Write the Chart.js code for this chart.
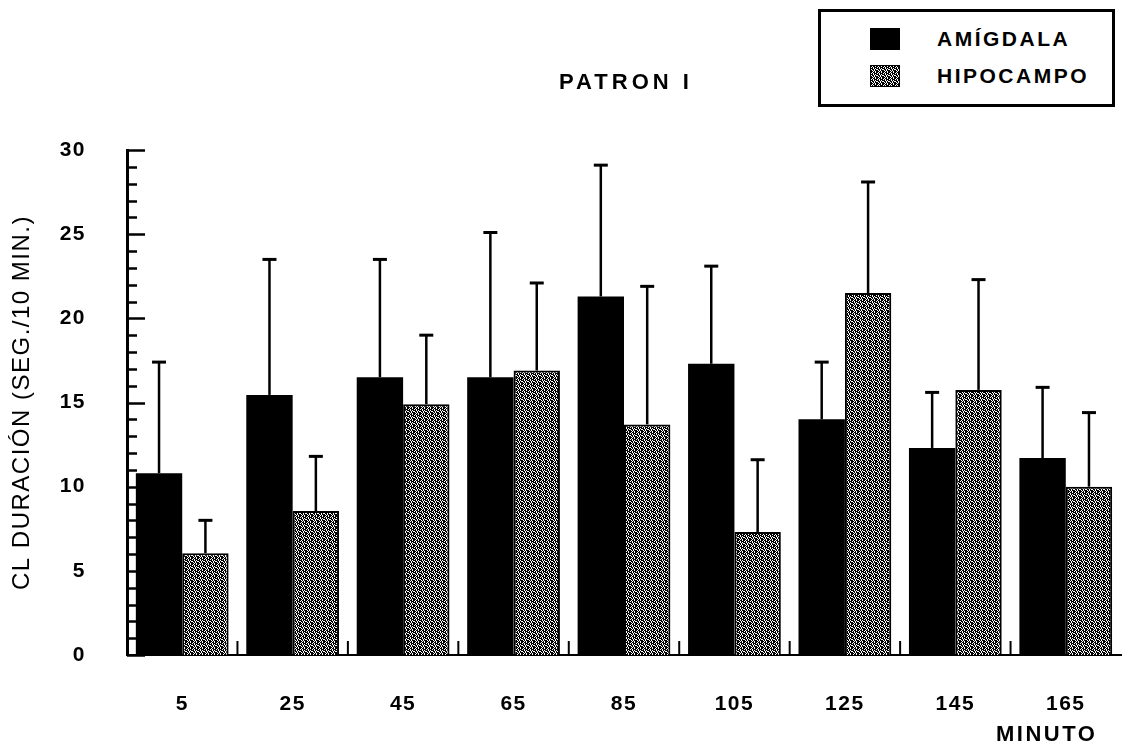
<!DOCTYPE html>
<html>
<head>
<meta charset="utf-8">
<script src="https://cdn.jsdelivr.net/npm/chart.js@4"></script>
<style>
  html, body { margin: 0; padding: 0; background: #fff; }
  #wrap { position: relative; width: 1130px; height: 746px; font-family: "Liberation Sans", Arial, sans-serif; color: #000; }
  #chart { position: absolute; left: 0; top: 0; }
  .txt { position: absolute; font-weight: bold; white-space: nowrap; }
  #title { left: 520px; width: 204px; top: 71px; text-align: center; font-size: 22px; line-height: 22px; letter-spacing: 4px; padding-left: 4px; }
  #xname { left: 996px; top: 723px; font-size: 22px; line-height: 22px; letter-spacing: 2.5px; }
  #legend { position: absolute; left: 818px; top: 9px; width: 291px; height: 92px; border: 3px solid #000; background: #fff; }
  .leg-row { position: absolute; left: 49px; height: 22px; display: flex; align-items: center; }
  .leg-sw { width: 30px; height: 22px; margin-right: 37px; }
  .leg-tx { font-weight: bold; font-size: 21px; letter-spacing: 2.5px; }
</style>
</head>
<body>
<div id="wrap">
  <canvas id="chart" width="1130" height="746"></canvas>
  <div id="title" class="txt">PATRON I</div>
  <div id="xname" class="txt">MINUTO</div>
  <div id="legend"></div>
</div>
<script>
// ---------- Data ----------
const minutos = ["5", "25", "45", "65", "85", "105", "125", "145", "165"];
const amigdala = [10.8, 15.45, 16.5, 16.5, 21.3, 17.3, 14.0, 12.3, 11.7];
const amigdalaSD = [6.6, 8.05, 7.0, 8.6, 7.8, 5.8, 3.4, 3.3, 4.2];
const hipocampo = [6.05, 8.55, 14.9, 16.9, 13.7, 7.3, 21.5, 15.75, 10.0];
const hipocampoSD = [1.95, 3.25, 4.1, 5.2, 8.2, 4.3, 6.6, 6.55, 4.4];
const yTicksMajor = 5;   // labelled every 5, minor tick every 1

// ---------- Halftone fill for the hippocampus bars ----------
function halftone() {
  const rows = ["101101", "010111", "110101", "011010", "101011", "110101"];
  const c = document.createElement("canvas");
  c.width = 6; c.height = 6;
  const g = c.getContext("2d");
  g.fillStyle = "#fff"; g.fillRect(0, 0, 6, 6);
  g.fillStyle = "#000";
  rows.forEach((r, y) => [...r].forEach((b, x) => { if (b === "1") g.fillRect(x, y, 1, 1); }));
  return c;
}
const tile = halftone();
const grayFill = document.getElementById("chart").getContext("2d").createPattern(tile, "repeat");

// Canvas text in the scan is spread out a little.
const spacing = {
  id: "spacing",
  beforeLayout(chart) { chart.ctx.letterSpacing = "1.5px"; },
  beforeDraw(chart) { chart.ctx.letterSpacing = "1.5px"; },
};

// Upward-only error bars, plus the inward tick marks of both axes.
const marks = {
  id: "marks",
  afterDatasetsDraw(chart) {
    const { ctx, scales: { x, y }, chartArea } = chart;
    const sds = [amigdalaSD, hipocampoSD];
    ctx.save();
    ctx.strokeStyle = "#000";
    chart.data.datasets.forEach((ds, d) => {
      chart.getDatasetMeta(d).data.forEach((bar, i) => {
        const top = y.getPixelForValue(ds.data[i] + sds[d][i]);
        ctx.lineWidth = 2.5;
        ctx.beginPath(); ctx.moveTo(bar.x, bar.y); ctx.lineTo(bar.x, top); ctx.stroke();
        ctx.lineWidth = 3;
        ctx.beginPath(); ctx.moveTo(bar.x - 7, top); ctx.lineTo(bar.x + 7, top); ctx.stroke();
      });
    });
    // y ticks point into the plot; every 5th one is longer
    ctx.lineWidth = 2.5;
    y.ticks.forEach(t => {
      const py = Math.round(y.getPixelForValue(t.value)) + 0.5;
      const len = t.value % yTicksMajor === 0 ? 18 : 10;
      ctx.beginPath(); ctx.moveTo(chartArea.left, py); ctx.lineTo(chartArea.left + len, py); ctx.stroke();
    });
    // short upward ticks between the minute groups
    ctx.lineWidth = 2;
    for (let i = 0; i < minutos.length - 1; i++) {
      const px = (x.getPixelForValue(i) + x.getPixelForValue(i + 1)) / 2;
      ctx.beginPath(); ctx.moveTo(px, chartArea.bottom); ctx.lineTo(px, chartArea.bottom - 14); ctx.stroke();
    }
    ctx.restore();
  }
};

const chart = new Chart(document.getElementById("chart"), {
  type: "bar",
  data: {
    labels: minutos,
    datasets: [
      { label: "AMÍGDALA", data: amigdala, backgroundColor: "#000", borderWidth: 0 },
      { label: "HIPOCAMPO", data: hipocampo, backgroundColor: grayFill, borderColor: "#000", borderWidth: 2 },
    ]
  },
  options: {
    responsive: false, animation: false,
    layout: { padding: { top: 150, right: 9, left: 0, bottom: 0 } },
    datasets: { bar: { categoryPercentage: 0.84, barPercentage: 1 } },
    plugins: { legend: { display: false }, tooltip: { enabled: false }, title: { display: false } },
    scales: {
      x: {
        afterFit: s => { s.height = 91; },
        grid: { display: false },
        border: { display: true, color: "#000", width: 2 },
        ticks: { color: "#000", padding: 29, font: { family: "Liberation Sans", size: 21, weight: "bold" } }
      },
      y: {
        min: 0, max: 30,
        afterFit: s => { s.width = 127; },
        grid: { display: false },
        border: { display: true, color: "#000", width: 3 },
        ticks: {
          stepSize: 1, autoSkip: false, color: "#000", padding: 33,
          font: { family: "Liberation Sans", size: 21, weight: "bold" },
          callback: v => (v % yTicksMajor === 0 ? v : "")
        },
        title: {
          display: true, text: "CL DURACIÓN (SEG./10 MIN.)", color: "#000",
          padding: { top: 8, bottom: 0 },
          font: { family: "Liberation Sans", size: 24, weight: "normal" }
        }
      }
    }
  },
  plugins: [spacing, marks]
});

// ---------- Boxed legend, built from the datasets ----------
const legend = document.getElementById("legend");
const tileUrl = tile.toDataURL();
chart.data.datasets.forEach((ds, i) => {
  const row = document.createElement("div");
  row.className = "leg-row";
  row.style.top = (16 + i * 37) + "px";
  const sw = document.createElement("div");
  sw.className = "leg-sw";
  if (i === 0) sw.style.background = "#000";
  else { sw.style.backgroundImage = `url(${tileUrl})`; sw.style.border = "1px solid #000"; sw.style.boxSizing = "border-box"; }
  const tx = document.createElement("span");
  tx.className = "leg-tx";
  tx.textContent = ds.label;
  row.append(sw, tx);
  legend.appendChild(row);
});
</script>
</body>
</html>
